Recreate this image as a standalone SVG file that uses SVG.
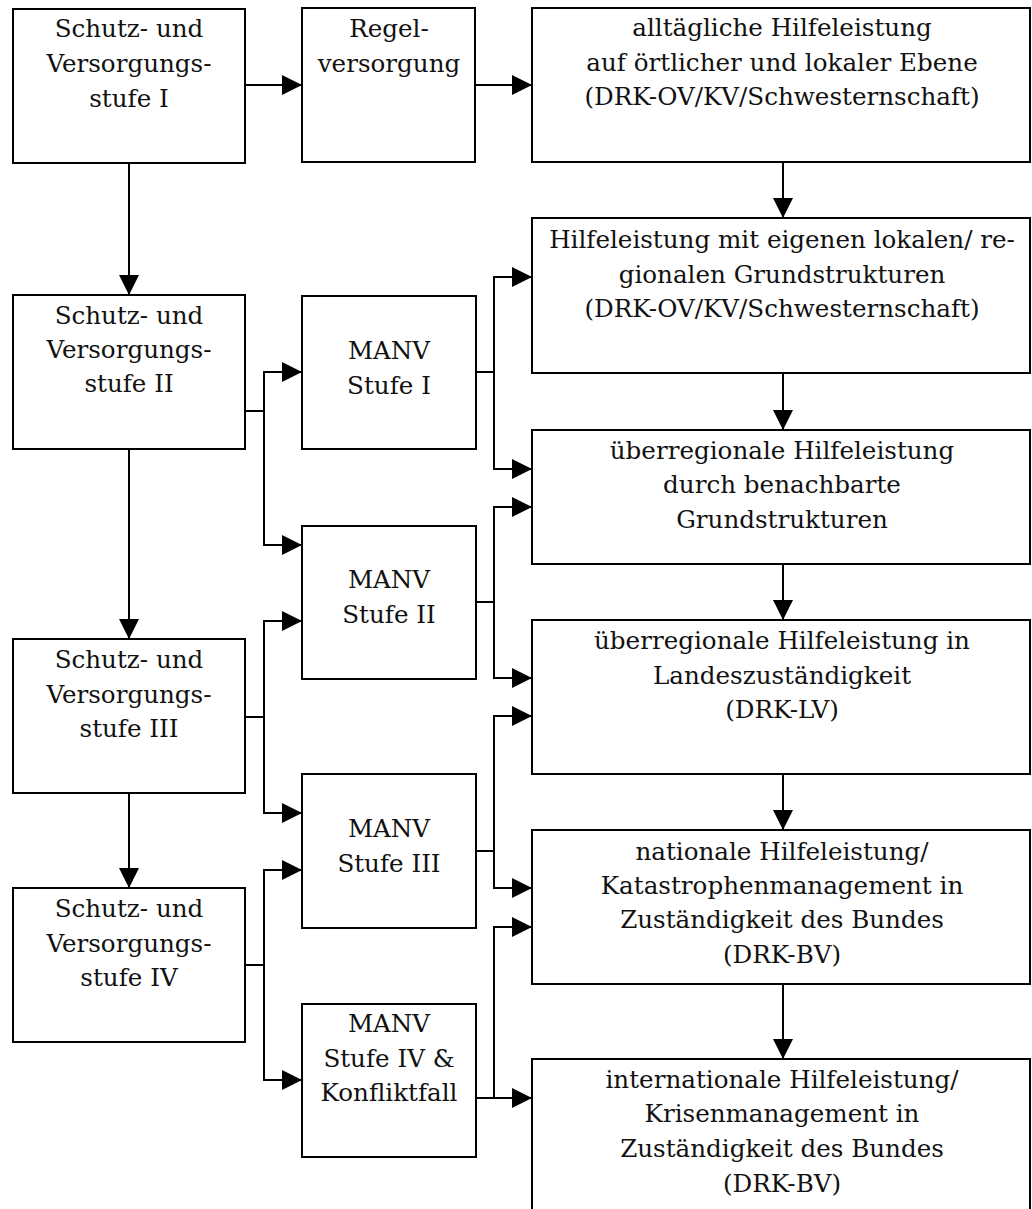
<svg xmlns="http://www.w3.org/2000/svg" width="1032" height="1209" viewBox="0 0 1032 1209">
<style>
.box{fill:#fff;stroke:#000;stroke-width:2}
.t{font-family:"DejaVu Serif","Liberation Serif",serif;font-size:24.6px;fill:#111;text-anchor:middle}
.c{fill:none;stroke:#000;stroke-width:2}
</style>
<defs>
<marker id="ah" markerUnits="userSpaceOnUse" markerWidth="20" markerHeight="20" refX="20" refY="10" orient="auto">
<path d="M0,0 L20,10 L0,20 z" fill="#000"/>
</marker>
</defs>
<rect width="1032" height="1209" fill="#fff"/>
<g id="connectors">
<path class="c" d="M245,85 H302" marker-end="url(#ah)"/>
<path class="c" d="M475,85 H532" marker-end="url(#ah)"/>
<path class="c" d="M783,162 V218" marker-end="url(#ah)"/>
<path class="c" d="M783,373 V430" marker-end="url(#ah)"/>
<path class="c" d="M783,564 V620" marker-end="url(#ah)"/>
<path class="c" d="M783,774 V830" marker-end="url(#ah)"/>
<path class="c" d="M783,984 V1059" marker-end="url(#ah)"/>
<path class="c" d="M129,163 V295" marker-end="url(#ah)"/>
<path class="c" d="M129,449 V639" marker-end="url(#ah)"/>
<path class="c" d="M129,793 V888" marker-end="url(#ah)"/>
<path class="c" d="M245,411 H264 V372 H302" marker-end="url(#ah)"/>
<path class="c" d="M264,411 V545 H302" marker-end="url(#ah)"/>
<path class="c" d="M245,717 H264 V621 H302" marker-end="url(#ah)"/>
<path class="c" d="M264,717 V813 H302" marker-end="url(#ah)"/>
<path class="c" d="M245,965 H264 V870 H302" marker-end="url(#ah)"/>
<path class="c" d="M264,965 V1080 H302" marker-end="url(#ah)"/>
<path class="c" d="M476,372 H494 V277 H532" marker-end="url(#ah)"/>
<path class="c" d="M494,372 V469 H532" marker-end="url(#ah)"/>
<path class="c" d="M476,602 H494 V507 H532" marker-end="url(#ah)"/>
<path class="c" d="M494,602 V678 H532" marker-end="url(#ah)"/>
<path class="c" d="M476,851 H494 V716 H532" marker-end="url(#ah)"/>
<path class="c" d="M494,851 V888 H532" marker-end="url(#ah)"/>
<path class="c" d="M476,1098 H532" marker-end="url(#ah)"/>
<path class="c" d="M494,1098 V927 H532" marker-end="url(#ah)"/>
</g>
<g id="s1"><rect class="box" x="13" y="9" width="232" height="154"/>
<text class="t" x="129" y="37">Schutz- und</text><text class="t" x="129" y="72">Versorgungs-</text><text class="t" x="129" y="107">stufe I</text></g>
<g id="s2"><rect class="box" x="13" y="295" width="232" height="154"/>
<text class="t" x="129" y="324">Schutz- und</text><text class="t" x="129" y="358">Versorgungs-</text><text class="t" x="129" y="392">stufe II</text></g>
<g id="s3"><rect class="box" x="13" y="639" width="232" height="154"/>
<text class="t" x="129" y="668">Schutz- und</text><text class="t" x="129" y="703">Versorgungs-</text><text class="t" x="129" y="737">stufe III</text></g>
<g id="s4"><rect class="box" x="13" y="888" width="232" height="154"/>
<text class="t" x="129" y="917">Schutz- und</text><text class="t" x="129" y="952">Versorgungs-</text><text class="t" x="129" y="986">stufe IV</text></g>
<g id="regel"><rect class="box" x="302" y="8" width="173" height="154"/>
<text class="t" x="389" y="37">Regel-</text><text class="t" x="389" y="72">versorgung</text></g>
<g id="manv1"><rect class="box" x="302" y="296" width="174" height="153"/>
<text class="t" x="389" y="359">MANV</text><text class="t" x="389" y="394">Stufe I</text></g>
<g id="manv2"><rect class="box" x="302" y="526" width="174" height="153"/>
<text class="t" x="389" y="588">MANV</text><text class="t" x="389" y="623">Stufe II</text></g>
<g id="manv3"><rect class="box" x="302" y="774" width="174" height="154"/>
<text class="t" x="389" y="837">MANV</text><text class="t" x="389" y="872">Stufe III</text></g>
<g id="manv4"><rect class="box" x="302" y="1004" width="174" height="153"/>
<text class="t" x="389" y="1032">MANV</text><text class="t" x="389" y="1067">Stufe IV &amp;</text><text class="t" x="389" y="1101">Konfliktfall</text></g>
<g id="b1"><rect class="box" x="532" y="8" width="498" height="154"/>
<text class="t" x="782" y="36">alltägliche Hilfeleistung</text><text class="t" x="782" y="71">auf örtlicher und lokaler Ebene</text><text class="t" x="782" y="105">(DRK-OV/KV/Schwesternschaft)</text></g>
<g id="b2"><rect class="box" x="532" y="218" width="498" height="155"/>
<text class="t" x="782" y="248">Hilfeleistung mit eigenen lokalen/ re-</text><text class="t" x="782" y="283">gionalen Grundstrukturen</text><text class="t" x="782" y="317">(DRK-OV/KV/Schwesternschaft)</text></g>
<g id="b3"><rect class="box" x="532" y="430" width="498" height="134"/>
<text class="t" x="782" y="459">überregionale Hilfeleistung</text><text class="t" x="782" y="493">durch benachbarte</text><text class="t" x="782" y="528">Grundstrukturen</text></g>
<g id="b4"><rect class="box" x="532" y="620" width="498" height="154"/>
<text class="t" x="782" y="649">überregionale Hilfeleistung in</text><text class="t" x="782" y="684">Landeszuständigkeit</text><text class="t" x="782" y="718">(DRK-LV)</text></g>
<g id="b5"><rect class="box" x="532" y="830" width="498" height="154"/>
<text class="t" x="782" y="860">nationale Hilfeleistung/</text><text class="t" x="782" y="894">Katastrophenmanagement in</text><text class="t" x="782" y="928">Zuständigkeit des Bundes</text><text class="t" x="782" y="963">(DRK-BV)</text></g>
<g id="b6"><rect class="box" x="532" y="1059" width="498" height="160"/>
<text class="t" x="782" y="1088">internationale Hilfeleistung/</text><text class="t" x="782" y="1122">Krisenmanagement in</text><text class="t" x="782" y="1157">Zuständigkeit des Bundes</text><text class="t" x="782" y="1192">(DRK-BV)</text></g>
</svg>
